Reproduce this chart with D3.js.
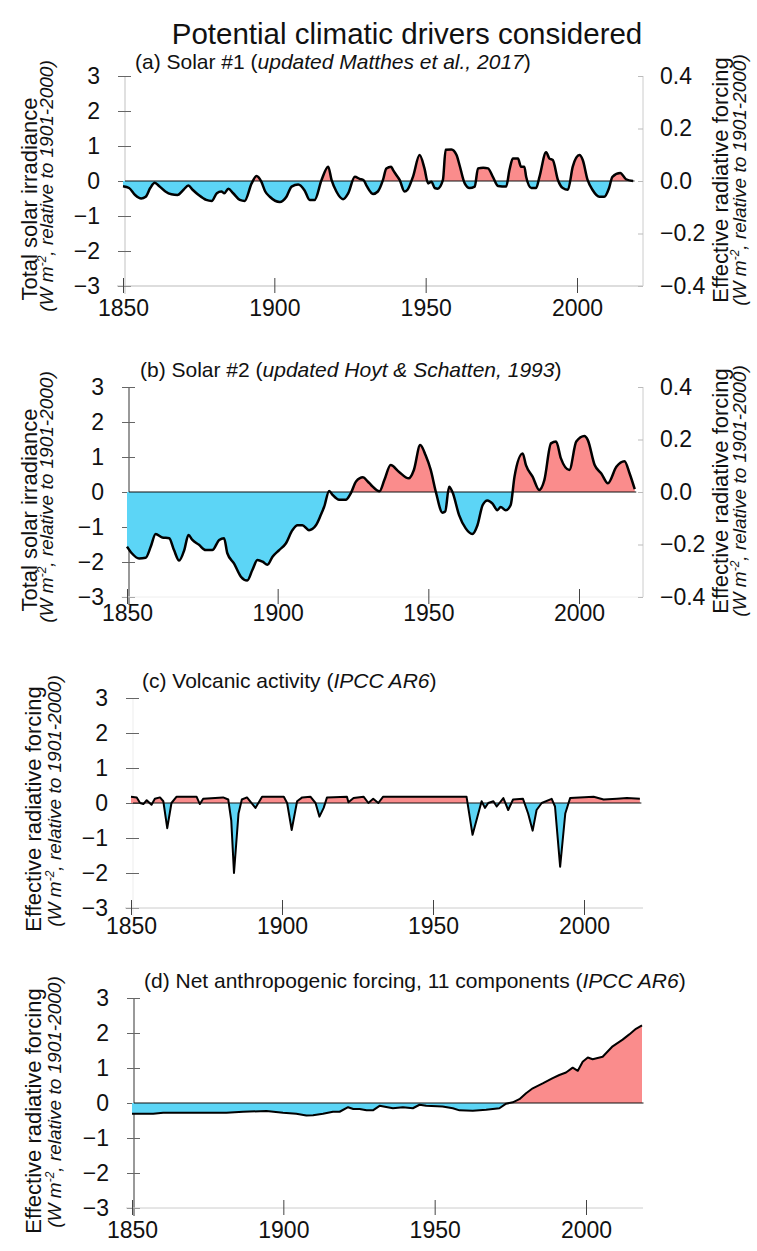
<!DOCTYPE html>
<html lang="en">
<head>
<meta charset="UTF-8">
<title>Potential climatic drivers considered</title>
<script src="https://d3js.org/d3.v7.min.js"></script>
<style>
    body { margin: 0; background: #fff; }
    svg text { font-family: "Liberation Sans", Arial, sans-serif; fill: #111; }
</style>
</head>
<body>
<svg id="chart" width="757" height="1251"></svg>
<script>
// (a) Solar #1, W m-2 relative to 1901-2000
const solar1Years = [1850, 1852, 1854, 1856, 1857.5, 1859, 1860.5, 1862, 1864, 1866, 1868, 1870, 1871.6, 1873, 1875, 1877.5, 1879.3, 1881, 1882.5, 1883.5, 1884.8, 1886.4, 1888.6, 1890.2, 1892.5, 1894.1, 1895.7, 1897, 1898.5, 1901.8, 1904, 1905.7, 1907.9, 1910, 1911.7, 1913.3, 1915.6, 1917.8, 1918.9, 1920.5, 1922.7, 1924.4, 1926.6, 1928.2, 1929.5, 1930.5, 1932.6, 1934.2, 1935.9, 1937, 1938.6, 1939.2, 1940.3, 1941.4, 1943, 1944, 1945.8, 1948, 1949.6, 1950.8, 1951.9, 1953, 1954, 1955.7, 1956.6, 1958.5, 1960.2, 1961.2, 1962.9, 1964.5, 1966.2, 1967.3, 1969, 1970.6, 1972.2, 1973.9, 1976.6, 1977.7, 1978.8, 1980.5, 1981.5, 1982.6, 1983.2, 1984.9, 1986.5, 1987.6, 1989.8, 1990.9, 1992, 1993.7, 1995.3, 1997, 1998.6, 2000.8, 2001.9, 2003.5, 2005.1, 2007.4, 2009, 2010.6, 2011.7, 2014.3, 2016.2, 2018.5];
const solar1Values = [-0.15, -0.2, -0.4, -0.5, -0.45, -0.2, -0.05, -0.15, -0.3, -0.38, -0.4, -0.25, -0.13, -0.25, -0.4, -0.54, -0.57, -0.35, -0.3, -0.35, -0.22, -0.35, -0.54, -0.57, -0.07, 0.14, -0.02, -0.3, -0.45, -0.6, -0.45, -0.16, -0.1, -0.27, -0.54, -0.54, 0.03, 0.41, 0.03, -0.3, -0.52, -0.35, 0.12, 0.06, 0.02, -0.14, -0.37, -0.3, 0.03, 0.36, 0.41, 0.32, 0.17, 0.03, -0.3, -0.25, 0.12, 0.74, 0.36, -0.07, -0.02, -0.2, -0.22, 0.03, 0.89, 0.9, 0.74, 0.45, -0.07, -0.2, -0.16, 0.36, 0.38, 0.36, 0.12, -0.14, -0.16, 0.32, 0.64, 0.64, 0.41, 0.41, 0.12, -0.2, -0.2, 0.12, 0.82, 0.64, 0.6, 0.03, -0.2, -0.25, 0.41, 0.74, 0.6, 0.03, -0.25, -0.45, -0.45, -0.2, 0.12, 0.23, 0.05, 0.0];

// (b) Solar #2
const solar2Years = [1850, 1851.6, 1854, 1856.2, 1857.9, 1859.5, 1861.7, 1864, 1865.6, 1867.3, 1869, 1870.4, 1871.7, 1873.9, 1876.1, 1878.3, 1880.6, 1882.2, 1883.3, 1885.5, 1887.8, 1889.9, 1891.6, 1893.3, 1895, 1896.6, 1898.3, 1900.5, 1902.7, 1904.9, 1906.6, 1908.2, 1910.4, 1912.7, 1914.3, 1915.4, 1917.1, 1918.2, 1920.4, 1922.6, 1924.3, 1926, 1928.3, 1929.9, 1931, 1933.8, 1935.4, 1937.5, 1940.2, 1943.5, 1945.2, 1947.3, 1949.1, 1950.8, 1952.5, 1954.7, 1955.6, 1956.9, 1958, 1960.2, 1962.4, 1964.6, 1966.3, 1968, 1969.6, 1971.3, 1972.9, 1974, 1975.7, 1977.3, 1978.6, 1981.3, 1982.4, 1984.6, 1986.8, 1988.5, 1990.7, 1992.4, 1994, 1996.8, 1999.1, 2001.8, 2002.9, 2005.2, 2007.4, 2009.6, 2012.4, 2015.1, 2016.8, 2018.5];
const solar2Values = [-1.56, -1.75, -1.9, -1.88, -1.56, -1.2, -1.3, -1.32, -1.66, -1.96, -1.66, -1.23, -1.37, -1.51, -1.66, -1.66, -1.37, -1.32, -1.75, -2.04, -2.42, -2.53, -2.23, -1.94, -1.99, -2.08, -1.85, -1.66, -1.47, -1.09, -0.95, -0.95, -1.09, -0.95, -0.66, -0.43, 0.03, -0.08, -0.22, -0.22, -0.03, 0.3, 0.42, 0.3, 0.2, 0.02, 0.34, 0.77, 0.58, 0.39, 0.63, 1.34, 1.05, 0.63, 0.0, -0.59, -0.56, 0.15, 0.0, -0.66, -1.04, -1.2, -0.95, -0.38, -0.24, -0.33, -0.52, -0.43, -0.52, -0.38, 0.44, 1.1, 0.77, 0.44, 0.06, 0.34, 1.39, 1.44, 0.96, 0.63, 1.44, 1.6, 1.49, 0.77, 0.53, 0.25, 0.72, 0.88, 0.53, 0.08];

// (c) Volcanic activity
const volcYears = [1850, 1851.9, 1853, 1854.1, 1855.2, 1856.8, 1857.9, 1859.6, 1860.7, 1862, 1863.4, 1865.1, 1871.7, 1872.8, 1873.9, 1880.5, 1882.2, 1883.2, 1884.1, 1885.6, 1886.7, 1888.4, 1891.2, 1893.4, 1900.6, 1901.7, 1903.2, 1905, 1906.7, 1909.4, 1911.1, 1912.4, 1913.8, 1914.9, 1921.5, 1922, 1923.7, 1927, 1928.6, 1930.2, 1931.9, 1933.5, 1961.1, 1963.1, 1965, 1966.1, 1967.2, 1968.3, 1970, 1971.1, 1973.3, 1974.9, 1976.5, 1979.8, 1981.5, 1983, 1984.3, 1986, 1989.3, 1990.4, 1992.1, 1993.8, 1995.4, 2003.2, 2006.5, 2010.9, 2014.2, 2018.5];
const volcValues = [0.18, 0.16, 0.0, -0.03, 0.08, -0.05, 0.12, 0.16, 0.05, -0.72, 0.0, 0.18, 0.18, -0.03, 0.12, 0.16, 0.1, -0.5, -2.0, -0.3, 0.1, 0.16, -0.14, 0.18, 0.18, 0.0, -0.77, 0.05, 0.16, 0.18, 0.0, -0.39, -0.14, 0.16, 0.18, 0.02, 0.14, 0.18, 0.0, 0.12, 0.0, 0.18, 0.18, -0.91, -0.3, 0.05, -0.14, 0.0, 0.05, -0.1, 0.14, -0.2, 0.1, 0.12, -0.3, -0.79, -0.2, 0.0, 0.12, -0.1, -1.82, -0.3, 0.14, 0.18, 0.1, 0.12, 0.14, 0.12];

// (d) Net anthropogenic forcing
const anthroYears = [1850, 1857, 1860.3, 1870.2, 1881.2, 1886.7, 1894.4, 1899.9, 1904.3, 1907.6, 1909.8, 1913.1, 1916.4, 1918.6, 1921.4, 1923.1, 1925.2, 1927.5, 1929.6, 1931.8, 1936.2, 1939.5, 1942.8, 1945, 1947.2, 1952.6, 1956, 1958.2, 1962.6, 1967, 1971.4, 1973.6, 1975.8, 1978, 1980.2, 1982.4, 1985.7, 1989, 1991.2, 1993.4, 1995.6, 1997.3, 1998.9, 2000.6, 2002.2, 2005.5, 2008.8, 2012.1, 2014.3, 2016.5, 2018.5];
const anthroValues = [-0.31, -0.31, -0.28, -0.28, -0.28, -0.25, -0.23, -0.28, -0.31, -0.36, -0.35, -0.31, -0.25, -0.25, -0.12, -0.17, -0.17, -0.21, -0.21, -0.08, -0.15, -0.12, -0.15, -0.05, -0.08, -0.1, -0.15, -0.21, -0.22, -0.19, -0.15, -0.02, 0.02, 0.11, 0.28, 0.42, 0.56, 0.71, 0.8, 0.87, 1.01, 0.92, 1.18, 1.3, 1.25, 1.32, 1.62, 1.81, 1.96, 2.12, 2.22];

const yearTicks = [1850, 1900, 1950, 2000];
const leftTicks = [-3, -2, -1, 0, 1, 2, 3];
const rightTicks = [-0.4, -0.2, 0.0, 0.2, 0.4];

const svg = d3.select("#chart");
const red = "#fa8c8c", blue = "#5cd5f6";

svg.append("text")
    .attr("x", 407).attr("y", 44)
    .attr("text-anchor", "middle")
    .attr("font-size", 29.5)
    .text("Potential climatic drivers considered");

// rotated two-line axis title (plain line + italic units line)
function axisTitle(g, main, x1, y1, x2, y2) {
    g.append("text")
        .attr("transform", `translate(${x1},${y1}) rotate(-90)`)
        .attr("text-anchor", "middle")
        .attr("font-size", 22)
        .text(main);
    const t = g.append("text")
        .attr("transform", `translate(${x2},${y2}) rotate(-90)`)
        .attr("text-anchor", "middle")
        .attr("font-size", 19)
        .attr("font-style", "italic");
    t.append("tspan").text("(W m");
    t.append("tspan").attr("dy", -7).attr("font-size", 12).text("-2");
    t.append("tspan").attr("dy", 7).text(", relative to 1901-2000)");
}

function drawPanel(p) {
    const g = svg.append("g");
    const x = d3.scaleLinear().domain([1850, 2000]).range([p.x1850, p.x2000]);
    const y = d3.scaleLinear().domain([-3, 3]).range([p.zero + 105, p.zero - 105]);
    const data = p.years.map((yr, i) => ({ yr: yr, v: p.values[i] }));
    const axisX = p.x1850 + 2;
    const xEnd = x(2019);

    // title
    const tt = g.append("text").attr("x", p.titleX).attr("y", p.titleY).attr("font-size", 21);
    tt.append("tspan").text(p.title[0]);
    tt.append("tspan").attr("font-style", "italic").text(p.title[1]);
    tt.append("tspan").text(p.title[2]);

    // left axis
    g.append("line")
        .attr("x1", axisX).attr("x2", axisX)
        .attr("y1", y(3)).attr("y2", y(-3) + 8)
        .attr("stroke", p.leftColor).attr("stroke-width", 1.2);
    const la = g.append("g")
        .attr("transform", `translate(${axisX},0)`)
        .call(d3.axisLeft(y).tickValues(leftTicks).tickFormat(d3.format("d")).tickSize(7).tickSizeOuter(0).tickPadding(18));
    la.select(".domain").remove();
    la.selectAll(".tick line").attr("x1", 6).attr("stroke", "#666");
    la.selectAll("text").attr("font-size", 23);

    // bottom axis
    g.append("line")
        .attr("x1", axisX - 8).attr("x2", 643)
        .attr("y1", y(-3)).attr("y2", y(-3))
        .attr("stroke", p.bottomColor);
    const ba = g.append("g")
        .attr("transform", `translate(0,${y(-3)})`)
        .call(d3.axisBottom(x).tickValues(yearTicks).tickFormat(d3.format("d")).tickSize(7).tickSizeOuter(0).tickPadding(p.xPad));
    ba.select(".domain").remove();
    ba.selectAll(".tick line").attr("y1", -8).attr("stroke", "#444");
    ba.selectAll("text").attr("font-size", 23);

    // right axis (solar panels only)
    if (p.right) {
        const yR = d3.scaleLinear().domain([-0.4, 0.4]).range([p.zero + 105, p.zero - 105]);
        g.append("line")
            .attr("x1", 643).attr("x2", 643)
            .attr("y1", yR(0.4)).attr("y2", yR(-0.4))
            .attr("stroke", "#ccc");
        const ra = g.append("g")
            .attr("transform", "translate(643,0)")
            .call(d3.axisRight(yR).tickValues(rightTicks).tickFormat(d3.format(".1f")).tickSize(-5).tickSizeOuter(0).tickPadding(17));
        ra.select(".domain").remove();
        ra.selectAll(".tick line").attr("stroke", "#bbb");
        ra.selectAll("text").attr("font-size", 23);
        axisTitle(g, "Effective radiative forcing", 728, p.zero - 1, 746, p.zero - 1);
    }

    axisTitle(g, p.leftLabel, p.lab1X, p.zero + p.lab1Dy, p.lab2X, p.zero + p.lab2Dy);

    // filled areas: red above zero, blue below
    const area = d3.area().curve(p.curve).x(d => x(d.yr)).y0(y(0)).y1(d => y(d.v));
    const line = d3.line().curve(p.curve).x(d => x(d.yr)).y(d => y(d.v));
    const defs = g.append("defs");
    defs.append("clipPath").attr("id", "up" + p.key)
        .append("rect").attr("x", 0).attr("y", 0).attr("width", 757).attr("height", y(0));
    defs.append("clipPath").attr("id", "dn" + p.key)
        .append("rect").attr("x", 0).attr("y", y(0)).attr("width", 757).attr("height", 400);
    g.append("path").datum(data).attr("d", area).attr("fill", red).attr("clip-path", `url(#up${p.key})`);
    g.append("path").datum(data).attr("d", area).attr("fill", blue).attr("clip-path", `url(#dn${p.key})`);

    // zero line
    g.append("line")
        .attr("x1", axisX).attr("x2", xEnd)
        .attr("y1", y(0)).attr("y2", y(0))
        .attr("stroke", "#111").attr("stroke-width", 1.2);

    g.append("path").datum(data).attr("d", line)
        .attr("fill", "none").attr("stroke", "#000")
        .attr("stroke-width", p.lw).attr("stroke-linejoin", "round");
}

drawPanel({
    key: "a", years: solar1Years, values: solar1Values,
    x1850: 123, x2000: 577, zero: 181,
    title: ["(a) Solar #1 (", "updated Matthes et al., 2017", ")"], titleX: 135, titleY: 69,
    leftLabel: "Total solar irradiance", lab1X: 37, lab1Dy: 18, lab2X: 53, lab2Dy: 5,
    leftColor: "#ccc", bottomColor: "#bbb", right: true, xPad: 7, lw: 2.5, curve: d3.curveMonotoneX
});
drawPanel({
    key: "b", years: solar2Years, values: solar2Values,
    x1850: 127, x2000: 579, zero: 492,
    title: ["(b) Solar #2 (", "updated Hoyt & Schatten, 1993", ")"], titleX: 140, titleY: 377,
    leftLabel: "Total solar irradiance", lab1X: 37, lab1Dy: 18, lab2X: 53, lab2Dy: 5,
    leftColor: "#555", bottomColor: "#eee", right: true, xPad: 1, lw: 2.5, curve: d3.curveMonotoneX
});
drawPanel({
    key: "c", years: volcYears, values: volcValues,
    x1850: 131, x2000: 584, zero: 803,
    title: ["(c) Volcanic activity (", "IPCC AR6", ")"], titleX: 142, titleY: 688,
    leftLabel: "Effective radiative forcing", lab1X: 41, lab1Dy: 6, lab2X: 61, lab2Dy: -2,
    leftColor: "#f0f0f0", bottomColor: "#ccc", right: false, xPad: 3, lw: 2, curve: d3.curveLinear
});
drawPanel({
    key: "d", years: anthroYears, values: anthroValues,
    x1850: 132, x2000: 586, zero: 1103,
    title: ["(d) Net anthropogenic forcing, 11 components (", "IPCC AR6", ")"], titleX: 144, titleY: 988,
    leftLabel: "Effective radiative forcing", lab1X: 41, lab1Dy: 8, lab2X: 61, lab2Dy: -1,
    leftColor: "#555", bottomColor: "#ccc", right: false, xPad: 7, lw: 2, curve: d3.curveLinear
});
</script>
</body>
</html>
